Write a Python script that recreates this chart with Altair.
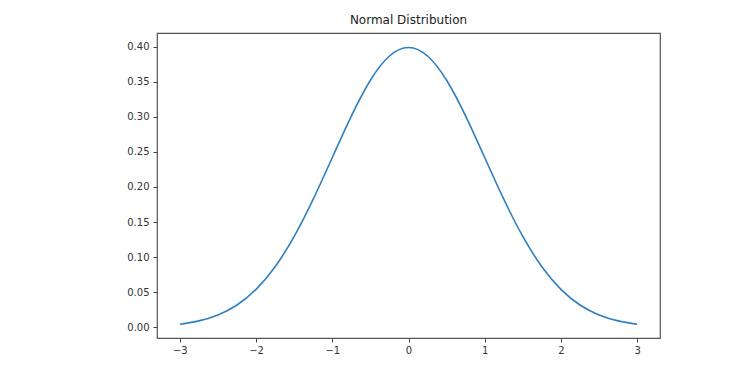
import altair as alt
import pandas as pd

# values
xs = [-3.0, -2.75, -2.5, -2.25, -2.0, -1.75, -1.5, -1.25, -1.0, -0.75, -0.5, -0.25,
      0.0, 0.25, 0.5, 0.75, 1.0, 1.25, 1.5, 1.75, 2.0, 2.25, 2.5, 2.75, 3.0]
ys = [0.0044, 0.0091, 0.0175, 0.0317, 0.054, 0.0863, 0.1295, 0.1826, 0.242, 0.3011, 0.3521, 0.3867,
      0.3989, 0.3867, 0.3521, 0.3011, 0.242, 0.1826, 0.1295, 0.0863, 0.054, 0.0317, 0.0175, 0.0091, 0.0044]
x_ticks = [-3, -2, -1, 0, 1, 2, 3]
y_ticks = [0.0, 0.05, 0.10, 0.15, 0.20, 0.25, 0.30, 0.35, 0.40]
title = "Normal Distribution"

df = pd.DataFrame({"x": xs, "y": ys})

font = "DejaVu Sans"

chart = alt.Chart(df, title=alt.TitleParams(title, fontSize=12, font=font, fontWeight="normal",
                                            color="#222", offset=6, anchor="middle")).mark_line(
    color="#2f7fbf", strokeWidth=1.6, interpolate="natural"
).encode(
    x=alt.X("x:Q", scale=alt.Scale(domain=[-3.3, 3.3], nice=False, zero=False),
            axis=alt.Axis(values=x_ticks, format="d", title=None, grid=False, domain=False,
                          tickColor="#444", tickSize=4, labelFont=font, labelFontSize=10,
                          labelColor="#333", labelPadding=3)),
    y=alt.Y("y:Q", scale=alt.Scale(domain=[-0.0153, 0.4195], nice=False, zero=False),
            axis=alt.Axis(values=y_ticks, format=".2f", title=None, grid=False, domain=False,
                          tickColor="#444", tickSize=4, labelFont=font, labelFontSize=10,
                          labelColor="#333", labelPadding=4)),
).properties(
    width=503, height=305,
    autosize=alt.AutoSizeParams(type="none"),
    padding={"left": 149, "top": 25, "right": 80, "bottom": 30},
).configure_view(
    stroke="#555", strokeWidth=1.2
)

chart.save("out.html", embed_options={"renderer": "svg", "actions": False})
